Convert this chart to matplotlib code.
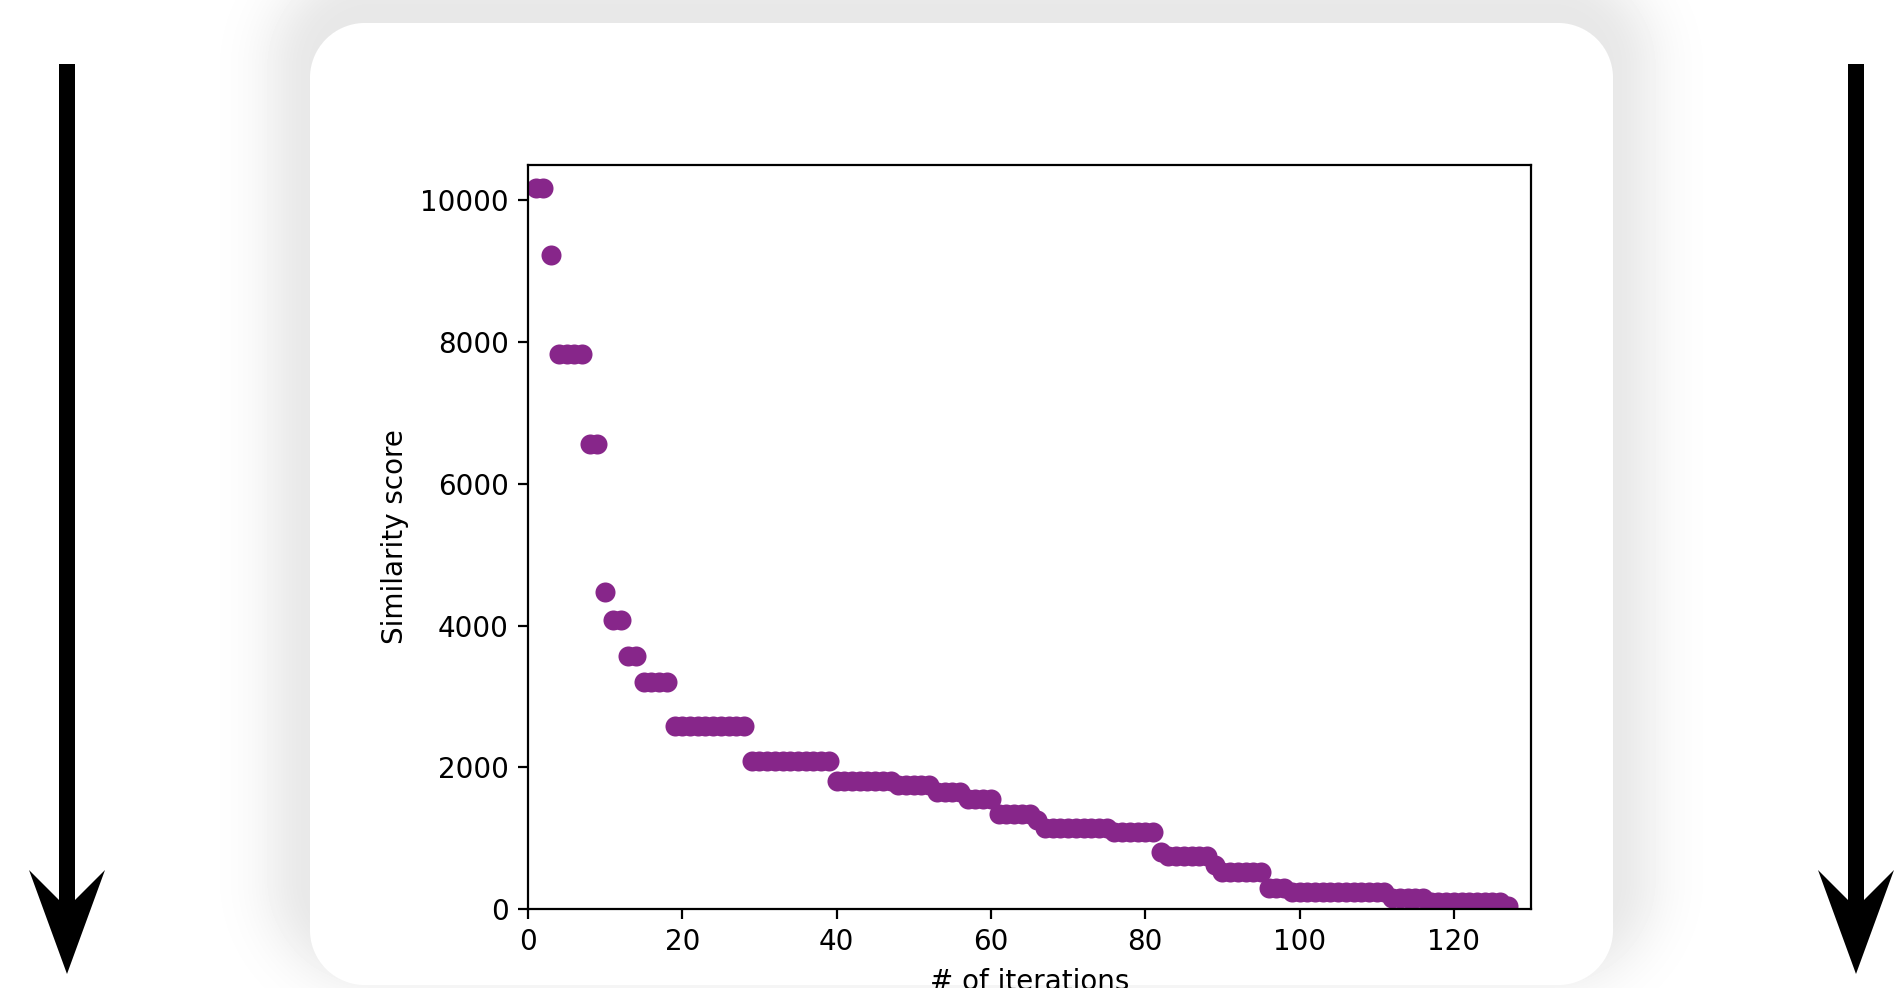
import numpy as np
import matplotlib
matplotlib.use("Agg")
import matplotlib.pyplot as plt
from matplotlib.patches import Polygon

# similarity score per iteration (runs of equal values)
run_values = [10180, 9225, 7830, 6560, 4480, 4085, 3570, 3200, 2580, 2095,
              1800, 1755, 1645, 1555, 1345, 1260, 1140, 1085, 810, 750,
              620, 520, 300, 240, 160, 105, 40]
run_lengths = [2, 1, 4, 2, 1, 2, 2, 4, 10, 11,
               8, 5, 4, 4, 5, 1, 9, 6, 1, 6,
               1, 6, 3, 13, 5, 10, 1]

scores = np.repeat(run_values, run_lengths)
iterations = np.arange(1, len(scores) + 1)

W, H = 1896, 988
fig = plt.figure(figsize=(W / 200, H / 200), dpi=200)

# --- slide background: white card with soft shadow, arrows on both sides ---
bg = fig.add_axes([0, 0, 1, 1], zorder=0)
bg.set_xlim(0, W)
bg.set_ylim(H, 0)
bg.axis("off")

yy, xx = np.mgrid[0:H, 0:W] + 0.5


def rounded_dist(x0, y0, x1, y1, r):
    cx = np.clip(xx, x0 + r, x1 - r)
    cy = np.clip(yy, y0 + r, y1 - r)
    return np.hypot(xx - cx, yy - cy) - r


d_shadow = rounded_dist(312, 8, 1611, 940, 60)
img = 255 - 23 * np.exp(-(np.clip(d_shadow, 0, None) / 52) ** 2)
card = np.clip(0.5 - rounded_dist(310, 24, 1613, 985, 55), 0, 1)
img = img * (1 - card) + 255 * card
bg.imshow(img, cmap="gray", vmin=0, vmax=255, extent=(0, W, H, 0),
          interpolation="nearest", aspect="auto")

for cx in (67, 1856):
    arrow = [(cx - 8, 64), (cx - 8, 900), (cx - 38, 870), (cx, 974),
             (cx + 38, 870), (cx + 8, 900), (cx + 8, 64)]
    bg.add_patch(Polygon(arrow, closed=True, color="black", lw=0))

# --- the chart itself ---
ax = fig.add_axes([528 / W, (H - 909) / H, (1531 - 528) / W, (909 - 165) / H],
                  zorder=1)
ax.scatter(iterations, scores, s=52, color="#87268a", linewidths=0)
ax.set_xlim(0, 130)
ax.set_ylim(0, 10500)
ax.set_xlabel("# of iterations")
ax.set_ylabel("Similarity score")

fig.savefig("out.png", dpi=200)
